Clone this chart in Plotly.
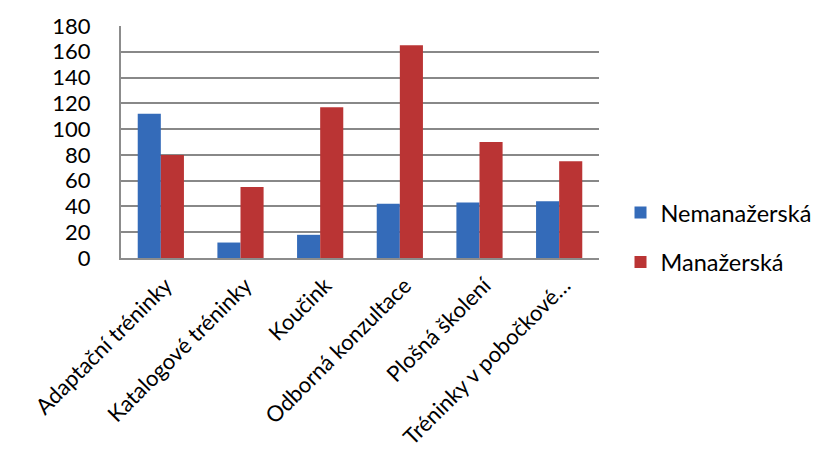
import plotly.graph_objects as go

categories = [
    "Adaptační tréninky",
    "Katalogové tréninky",
    "Koučink",
    "Odborná konzultace",
    "Plošná školení",
    "Tréninky v pobočkové…",
]
nemanazerska = [112, 12, 18, 42, 43, 44]
manazerska = [80, 55, 117, 165, 90, 75]
y_ticks = list(range(0, 181, 20))

FONT = "Lato, 'Open Sans', sans-serif"

fig = go.Figure()
fig.add_trace(go.Bar(
    x=categories, y=nemanazerska, name="Nemanažerská",
    marker=dict(color="#346bb9", line=dict(width=0)),
    legendgroup="a",
))
fig.add_trace(go.Bar(
    x=categories, y=manazerska, name="Manažerská",
    marker=dict(color="#ba3434", line=dict(width=0)),
    legendgroup="b",
))

fig.update_layout(
    width=823, height=454,
    margin=dict(l=121, r=224, t=26, b=196, autoexpand=False),
    paper_bgcolor="white", plot_bgcolor="white",
    barmode="group", bargap=0.42, bargroupgap=0,
    font=dict(family=FONT, size=22, color="black"),
    legend=dict(
        x=1.045, xanchor="left", y=0.29, yanchor="top",
        font=dict(size=23.5), traceorder="grouped", tracegroupgap=16,
        itemwidth=30,
    ),
    xaxis=dict(
        tickangle=-45, showgrid=False, showline=True,
        linecolor="#8c8c8c", linewidth=2, ticks="", automargin=False,
        tickfont=dict(size=22), ticklabelshift=5, ticklabelstandoff=4,
    ),
    yaxis=dict(
        range=[0, 180], tickvals=y_ticks, showgrid=True,
        gridcolor="#888888", gridwidth=1.6, showline=True,
        linecolor="#8c8c8c", linewidth=2, ticks="", ticklen=0,
        tickfont=dict(size=22), zeroline=False, ticklabelstandoff=24,
        automargin=False,
    ),
)

fig.write_html("out.html")
